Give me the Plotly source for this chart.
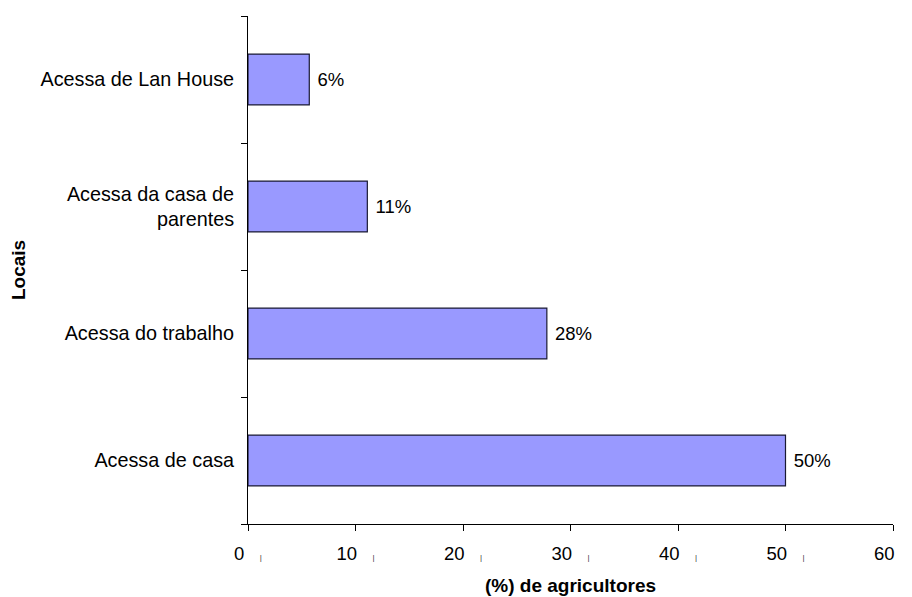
import plotly.graph_objects as go

categories = ["Acessa de casa", "Acessa do trabalho", "Acessa da casa de<br>parentes", "Acessa de Lan House"]
values = [50.0, 27.8, 11.1, 5.7]
bar_labels = ["50%", "28%", "11%", "6%"]
x_ticks = [0, 10, 20, 30, 40, 50, 60]
x_tick_labels = [str(v) for v in x_ticks]

FONT = "Liberation Sans, Arial, sans-serif"
mark = "\u00a0\u00a0\u00a0<span style='font-size:8px;color:#333'>|</span>"

# the page body has an 8px margin, so the figure is drawn 8px smaller and shifted
OFF = 8
W, H = 912 - OFF, 597 - OFF
L, R, T, B = 248 - OFF, 19, 16 - OFF, 73
pw, ph = W - L - R, H - T - B

fig = go.Figure(go.Bar(
    x=values, y=categories, orientation="h",
    width=0.4,
    marker=dict(color="#9999FF", line=dict(color="#1a1a33", width=1.2)),
    text=bar_labels, texttemplate="\u00a0%{text}", textposition="outside", cliponaxis=False,
    textfont=dict(family=FONT, size=18.5, color="black"),
))

fig.update_layout(
    width=W, height=H,
    margin=dict(l=L, r=R, t=T, b=B, autoexpand=False),
    plot_bgcolor="white", paper_bgcolor="white",
    showlegend=False,
    font=dict(family=FONT, color="black"),
    xaxis=dict(
        range=[0, 60], tickvals=x_ticks,
        ticktext=[t + mark for t in x_tick_labels],
        ticks="outside", ticklen=6, tickcolor="black",
        showline=True, linecolor="black", linewidth=1,
        showgrid=False, zeroline=False, automargin=False,
        ticklabelstandoff=7, ticklabeloverflow="allow",
        tickfont=dict(size=18.5, family=FONT),
    ),
    yaxis=dict(
        categoryorder="array", categoryarray=categories,
        range=[-0.5, 3.5],
        tickson="boundaries", ticks="outside", ticklen=6, tickcolor="black",
        showline=True, linecolor="black", linewidth=1,
        showgrid=False, zeroline=False, automargin=False,
        ticklabelstandoff=9,
        tickfont=dict(size=19.8, family=FONT),
    ),
    annotations=[
        dict(text="<b>(%) de agricultores</b>", xref="paper", yref="paper",
             x=0.5, y=(-(585 - 524)) / ph, xanchor="center", yanchor="middle",
             showarrow=False, font=dict(size=19, family=FONT)),
        dict(text="<b>Locais</b>", xref="paper", yref="paper",
             x=(18 - 248) / pw, y=0.5, xanchor="center", yanchor="middle", textangle=-90,
             showarrow=False, font=dict(size=19, family=FONT)),
    ],
)

fig.write_html("out.html")
